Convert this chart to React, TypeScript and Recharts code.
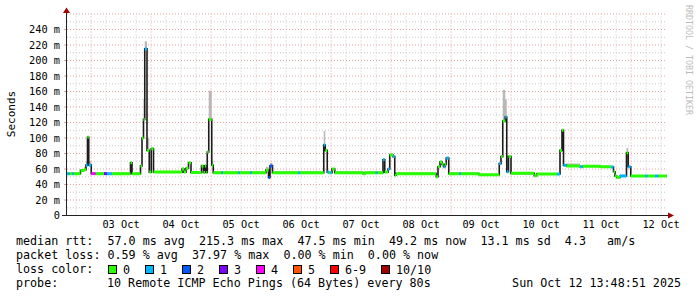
import { ComposedChart, Line, Area, XAxis, YAxis, ReferenceLine } from 'recharts';

// hours since start of graph (02 Oct 14:24), median rtt (ms), lost pings, smoke top (ms)
const sampleHours = [
  0, 1.0, 2.0, 2.6, 5.4, 6.8, 7.6, 8.2, 8.7, 9.7, 11.4, 14.8, 16.0, 18.0, 25.4, 26.0,
  29.4, 30.0, 30.6, 31.1, 32.0, 32.9, 33.7, 34.6, 46.0, 46.8, 47.6, 48.6, 49.6, 53.8,
  54.6, 55.2, 55.7, 56.1, 56.7, 57.9, 58.5, 61.8, 62.4, 68.4, 69.0, 73.2, 73.8, 79.6,
  80.6, 81.2, 82.2, 92.4, 93.2, 102.7, 103.3, 104.1, 104.8, 105.4, 106.0, 107.1, 118.4,
  119.2, 123.5, 124.1, 126.4, 127.1, 128.4, 129.1, 130.4, 131.1, 131.6, 147.7, 148.4,
  149.2, 150.0, 150.6, 151.2, 151.7, 152.7, 157.0, 157.6, 164.8, 172.9, 173.6, 174.3,
  175.3, 175.9, 176.6, 177.6, 186.9, 187.9, 196.0, 197.2, 198.0, 198.6, 199.8, 205.2,
  206.3, 213.2, 217.6, 218.6, 219.2, 219.9, 221.2, 223.8, 224.5, 225.5, 231.2, 232.1,
  235.2, 236.5,
];
const medianMs = [
  54, 54, 54, 54, 58, 59, 65, 101, 65, 54, 54, 54, 54, 54, 68, 54,
  64, 100, 124, 215, 84, 56, 86, 56, 60, 56, 61, 68, 55.5, 64,
  55.5, 64, 55.5, 82, 124, 65, 55.3, 55.3, 55.3, 55.3, 55.3, 55.3, 55.3, 58.6,
  49, 64, 55.3, 55.3, 55.3, 91, 84, 56, 55.3, 55.3, 60, 55.3, 54,
  55.3, 55.3, 55.3, 72, 56, 60, 78, 76, 52, 54, 50, 63,
  69, 66, 63, 66, 74, 54, 54, 54, 52.6, 67, 76, 122,
  127, 56.4, 76, 54.4, 51.3, 53.5, 53.5, 84, 110, 65, 63.8, 63,
  63.5, 63, 62.5, 56.4, 51, 49.2, 51, 81, 63, 51, 51, 51,
  51, 51,
];
const lostPings = [
  1, 0, 1, 0, 0, 0, 1, 0, 1, 4, 0, 3, 1, 0, 0, 0,
  0, 0, 0, 1, 0, 0, 0, 0, 0, 0, 0, 0, 0, 0,
  0, 0, 0, 0, 0, 0, 0, 1, 0, 1, 0, 1, 0, 0,
  2, 2, 0, 1, 0, 1, 0, 1, 0, 1, 0, 0, 0,
  0, 1, 0, 1, 0, 1, 0, 1, 0, 0, 0, 0,
  0, 0, 1, 0, 1, 0, 1, 0, 0, 1, 0, 0,
  1, 1, 0, 0, 0, 0, 1, 0, 0, 1, 0, 1,
  0, 0, 1, 0, 0, 0, 1, 0, 1, 0, 1, 0,
  1, 0,
];
const smokeTopMs: (number | null)[] = [
  null, null, null, null, 60, 63, 70, 103, 70, null, null, null, null, null, 70, null,
  null, 102, 150, 225, 100, null, 88, null, 62, null, null, null, null, null,
  null, 66, null, null, 161, 70, null, null, null, null, null, null, null, 63,
  60, 68, null, null, null, 109, null, null, null, null, null, null, null,
  null, null, null, 74, null, null, 80, null, null, null, null, null,
  71, null, null, null, 76, null, null, null, null, null, null, 162,
  150, null, 78, null, null, null, null, null, 111, null, 67, null,
  null, null, null, null, null, null, 53, 87, null, null, null, null,
  null, null,
];

const dayTicks = [21.6, 45.6, 69.6, 93.6, 117.6, 141.6, 165.6, 189.6, 213.6, 237.6];
const dayLabels = ['03 Oct', '04 Oct', '05 Oct', '06 Oct', '07 Oct', '08 Oct', '09 Oct', '10 Oct', '11 Oct', '12 Oct'];
const yTicks = [0, 20, 40, 60, 80, 100, 120, 140, 160, 180, 200, 220, 240];

const lossLabels = ['0', '1', '2', '3', '4', '5', '6-9', '10/10'];
const lossColors = ['#26ff00', '#00b8ff', '#0059ff', '#7e00ff', '#ff00ff', '#ff5500', '#ff0000', '#a10000'];

const END_HOUR = 240;

// each sample -> flat segment; gap row breaks the coloured lines
const rows: any[] = [];
sampleHours.forEach((t, i) => {
  const end = i < sampleHours.length - 1 ? sampleHours[i + 1] : END_HOUR;
  const v = medianMs[i];
  const key = 'c' + lostPings[i];
  const top = smokeTopMs[i];
  const smoke = top != null ? [v, top] : null;
  rows.push({ t, med: v, [key]: v, smoke });
  rows.push({ t: end, med: v, [key]: v, smoke });
  rows.push({ t: end, med: v, smoke: null });
});

const midnights = dayTicks.map((d) => d - 12);
const sixHours: number[] = [];
for (let h = 3.6; h < END_HOUR; h += 6) {
  if (!midnights.some((m) => Math.abs(m - h) < 0.01)) sixHours.push(h);
}
const minorY = [10, 30, 50, 70, 90, 110, 130, 150, 170, 190, 210, 230, 250];
const majorY = [20, 40, 60, 80, 100, 120, 140, 160, 180, 200, 220, 240, 260];

const mono = 'DejaVu Sans Mono, monospace';
const minorGrid = '#c8c8c8';
const majorGrid = '#e3a3a3';

const legendRows = [
  'median rtt:  57.0 ms avg  215.3 ms max  47.5 ms min  49.2 ms now  13.1 ms sd  4.3   am/s',
  'packet loss: 0.59 % avg  37.97 % max  0.00 % min  0.00 % now',
];
const boxX = [108, 145, 182, 219, 256, 293, 330, 381];

export default function App() {
  return (
    <div style={{ position: 'absolute', left: 0, top: 0, width: 697, height: 297, background: '#fff' }}>
      <ComposedChart
        width={697}
        height={297}
        data={rows}
        margin={{ top: 14, right: 30, bottom: 61.5, left: 7 }}
        style={{ position: 'absolute', left: 0, top: 0 }}
      >
        <XAxis
          dataKey="t"
          type="number"
          domain={[0, END_HOUR]}
          ticks={dayTicks}
          tickFormatter={(_v: number, i: number) => dayLabels[i]}
          axisLine={false}
          tickLine={false}
          tickSize={0}
          tickMargin={5}
          height={20}
          interval={0}
          tick={{ fontFamily: mono, fontSize: 10.3, fill: '#000' }}
        />
        <YAxis
          type="number"
          domain={[0, 260]}
          ticks={yTicks}
          tickFormatter={(v: number) => (v === 0 ? '0' : `${v} m`)}
          axisLine={false}
          tickLine={{ stroke: majorGrid }}
          tickSize={3}
          tickMargin={4}
          width={60}
          interval={0}
          tick={{ fontFamily: mono, fontSize: 10.3, fill: '#000' }}
        />
        {minorY.map((y) => (
          <ReferenceLine key={'my' + y} y={y} stroke={minorGrid} strokeDasharray="1 2" />
        ))}
        {sixHours.map((x) => (
          <ReferenceLine key={'mx' + x} x={x} stroke={minorGrid} strokeDasharray="1 2" />
        ))}
        {majorY.map((y) => (
          <ReferenceLine key={'My' + y} y={y} stroke={majorGrid} strokeDasharray="1 2" />
        ))}
        {midnights.map((x) => (
          <ReferenceLine key={'Mx' + x} x={x} stroke={majorGrid} strokeDasharray="1 2" />
        ))}
        <Area
          dataKey="smoke"
          type="linear"
          fill="#b8b8b8"
          fillOpacity={1}
          stroke="none"
          connectNulls={false}
          isAnimationActive={false}
          activeDot={false}
        />
        <Line
          dataKey="med"
          type="linear"
          stroke="#1c1c1c"
          strokeWidth={1.6}
          dot={false}
          activeDot={false}
          isAnimationActive={false}
        />
        {lossColors.map((c, i) => (
          <Line
            key={c}
            dataKey={'c' + i}
            type="linear"
            stroke={c}
            strokeWidth={3}
            strokeLinecap="butt"
            dot={false}
            activeDot={false}
            connectNulls={false}
            isAnimationActive={false}
          />
        ))}
      </ComposedChart>
      <svg width={697} height={297} style={{ position: 'absolute', left: 0, top: 0, pointerEvents: 'none' }}>
        <line x1={66.5} y1={10} x2={66.5} y2={216} stroke="#222" />
        <line x1={62} y1={215.5} x2={670} y2={215.5} stroke="#222" />
        <polygon points="63,13 70,13 66.5,7.5" fill="#a00000" />
        <polygon points="668,212.5 668,218.5 674,215.5" fill="#a00000" />
        <text
          x={11}
          y={114}
          transform="rotate(-90 11 114)"
          textAnchor="middle"
          dominantBaseline="central"
          fontFamily={mono}
          fontSize={11}
          fill="#000"
        >
          Seconds
        </text>
        <text
          x={689}
          y={5}
          transform="rotate(90 689 5)"
          dominantBaseline="central"
          fontFamily={mono}
          fontSize={8.3}
          fill="#bdbdbd"
        >
          RRDTOOL / TOBI OETIKER
        </text>
        {legendRows.map((s, i) => (
          <text
            key={i}
            x={16}
            y={241 + i * 14}
            dominantBaseline="central"
            fontFamily={mono}
            fontSize={11.7}
            fill="#000"
            style={{ whiteSpace: 'pre' }}
          >
            {s}
          </text>
        ))}
        <text x={16} y={269} dominantBaseline="central" fontFamily={mono} fontSize={11.7} fill="#000">
          loss color:
        </text>
        {lossColors.map((c, i) => (
          <g key={c}>
            <rect x={boxX[i] + 0.5} y={265.5} width={8} height={8} fill={c} stroke="#000" />
            <text x={boxX[i] + 15} y={269.5} dominantBaseline="central" fontFamily={mono} fontSize={11.7} fill="#000">
              {lossLabels[i]}
            </text>
          </g>
        ))}
        <text x={16} y={283} dominantBaseline="central" fontFamily={mono} fontSize={11.7} fill="#000">
          probe:
        </text>
        <text x={107} y={283} dominantBaseline="central" fontFamily={mono} fontSize={11.7} fill="#000" style={{ whiteSpace: 'pre' }}>
          10 Remote ICMP Echo Pings (64 Bytes) every 80s
        </text>
        <text x={681} y={283} textAnchor="end" dominantBaseline="central" fontFamily={mono} fontSize={11.7} fill="#000">
          Sun Oct 12 13:48:51 2025
        </text>
      </svg>
    </div>
  );
}
